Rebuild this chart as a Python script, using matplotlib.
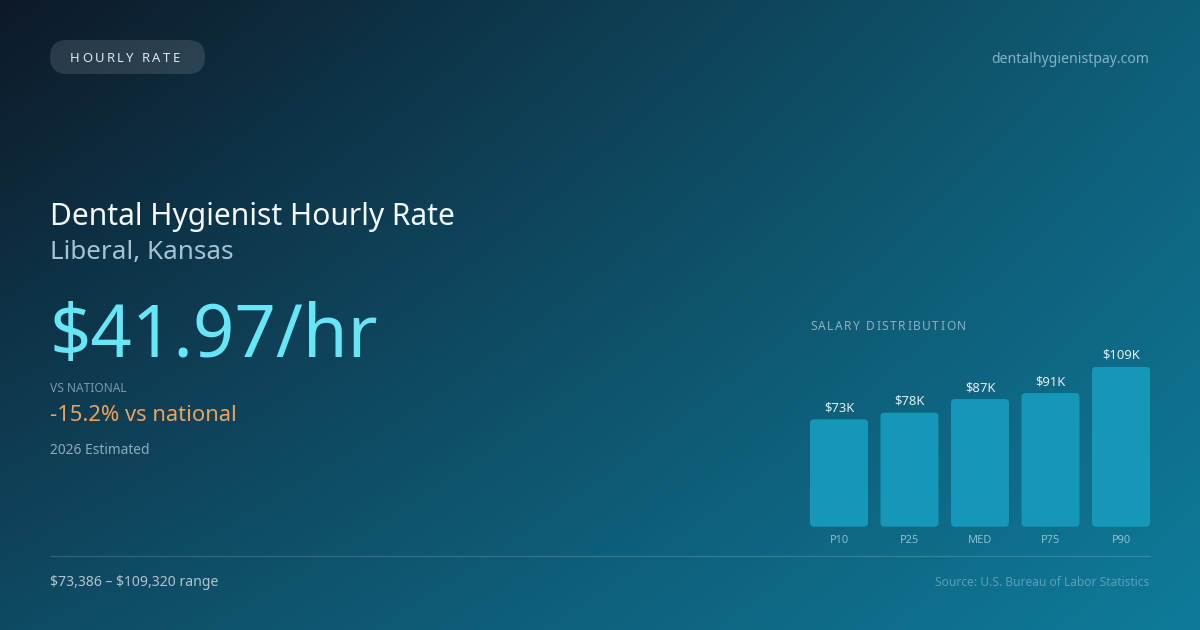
import numpy as np
import matplotlib
matplotlib.use("Agg")
import matplotlib.pyplot as plt
from matplotlib.patches import FancyBboxPatch

plt.rcParams['font.family'] = ['Noto Sans', 'DejaVu Sans']
plt.rcParams['text.parse_math'] = False

# ---- data ----
categories = ["P10", "P25", "MED", "P75", "P90"]
salaries = [73386, 77900, 87200, 91300, 109320]
badge_text = "HOURLY RATE"
site_text = "dentalhygienistpay.com"
title_text = "Dental Hygienist Hourly Rate"
location_text = "Liberal, Kansas"
hourly_text = "$41.97/hr"
vs_label = "VS NATIONAL"
vs_text = "-15.2% vs national"
year_text = "2026 Estimated"
range_text = "$73,386 \u2013 $109,320 range"
source_text = "Source: U.S. Bureau of Labor Statistics"
chart_title = "SALARY DISTRIBUTION"

W, H = 1200, 630
fig = plt.figure(figsize=(W / 100, H / 100), dpi=100)

def fy(y):
    return 1 - y / H

def fx(x):
    return x / W

def pt(px):
    return px * 0.72

# ---- background gradient (bilinear between corner colours) ----
bg = fig.add_axes([0, 0, 1, 1])
bg.set_axis_off()
tl = np.array([0x0d, 0x19, 0x28]) / 255
tr = np.array([0x0f, 0x5e, 0x78]) / 255
bl = np.array([0x0f, 0x4a, 0x63]) / 255
br = np.array([0x0f, 0x7b, 0x9a]) / 255
u = np.linspace(0, 1, 300)[None, :, None]
v = np.linspace(0, 1, 160)[:, None, None]
img = (1 - v) * ((1 - u) * tl + u * tr) + v * ((1 - u) * bl + u * br)
bg.imshow(img, aspect='auto', extent=[0, 1, 0, 1], interpolation='bicubic')
bg.set_xlim(0, 1)
bg.set_ylim(0, 1)

renderer = fig.canvas.get_renderer()

def text_width(s, size):
    t = fig.text(0, 0, s, fontsize=size)
    w = t.get_window_extent(renderer).width
    t.remove()
    return w

def spaced_text(x_px, y_px, s, size, color, spacing_px):
    bar_w = text_width("|", size)
    for i, ch in enumerate(s):
        if i == 0:
            off = 0
        else:
            off = text_width(s[:i] + "|", size) - bar_w
        fig.text(fx(x_px + off + i * spacing_px), fy(y_px), ch, fontsize=size,
                 color=color, va='baseline', ha='left')

# ---- badge ----
pill = FancyBboxPatch((fx(50), fy(74)), fx(155), 34 / H,
                      boxstyle="round,pad=0,rounding_size=%f" % (17 / W),
                      mutation_aspect=W / H,
                      transform=fig.transFigure, facecolor='white', alpha=0.12,
                      edgecolor='none')
fig.patches.append(pill)
spaced_text(70, 62, badge_text, pt(13), '#dfe7ef', 2.4)

fig.text(fx(1149), fy(63), site_text, fontsize=pt(14), color='#86b3c7',
         ha='right', va='baseline')

# ---- left text block ----
fig.text(fx(50), fy(225), title_text, fontsize=pt(30), color='#f4f8fb',
         ha='left', va='baseline')
fig.text(fx(50), fy(259), location_text, fontsize=pt(26), color='#a6c3d3',
         ha='left', va='baseline')
fig.text(fx(49), fy(357), hourly_text, fontsize=pt(72.5), color='#67e6f8',
         ha='left', va='baseline')
fig.text(fx(50), fy(392), vs_label, fontsize=pt(12), color='#7f98aa',
         ha='left', va='baseline')
fig.text(fx(50), fy(421), vs_text, fontsize=pt(22), color='#eca25c',
         ha='left', va='baseline')
fig.text(fx(50), fy(454), year_text, fontsize=pt(13.8), color='#92a9b8',
         ha='left', va='baseline')

# ---- divider and footer ----
bg.plot([fx(50), fx(1150)], [fy(556), fy(556)], color='white', alpha=0.15,
        lw=1, transform=bg.transAxes)
fig.text(fx(50), fy(586), range_text, fontsize=pt(14), color='#b3c4cf',
         ha='left', va='baseline')
fig.text(fx(1149), fy(586), source_text, fontsize=pt(12), color='#5a9fba',
         ha='right', va='baseline')

# ---- salary distribution chart ----
spaced_text(810, 330, chart_title, pt(12), '#8fb1c2', 1.5)

ax_left, ax_right = 810, 1150
ax_bottom, ax_top = 526.7, 366.7
ax = fig.add_axes([fx(ax_left), fy(ax_bottom), (ax_right - ax_left) / W,
                   (ax_bottom - ax_top) / H])
ax.set_axis_off()
ax.patch.set_alpha(0)
x = np.arange(len(categories))
bar_w = 58 / 70.5
ax.set_xlim(-bar_w / 2, len(categories) - 1 + bar_w / 2)
ax.set_ylim(0, max(salaries))
bars = ax.bar(x, salaries, width=bar_w, color='none')

px_per_x = (ax_right - ax_left) / (ax.get_xlim()[1] - ax.get_xlim()[0])
px_per_y = (ax_bottom - ax_top) / max(salaries)
radius_px = 4
for rect, val, cat in zip(bars, salaries, categories):
    rect.set_visible(False)
    p = FancyBboxPatch((rect.get_x(), rect.get_y()), rect.get_width(), rect.get_height(),
                       boxstyle="round,pad=0,rounding_size=%f" % (radius_px / px_per_x),
                       mutation_aspect=px_per_x / px_per_y,
                       facecolor='#1598b7', edgecolor='none')
    ax.add_patch(p)
    cx = rect.get_x() + rect.get_width() / 2
    ax.annotate("$%dK" % round(val / 1000), (cx, val), xytext=(0, 8 * 0.72),
                textcoords='offset points', ha='center', va='baseline',
                fontsize=pt(13), color='#e2eef3', annotation_clip=False)
    ax.annotate(cat, (cx, 0), xytext=(0, -16 * 0.72), textcoords='offset points',
                ha='center', va='baseline', fontsize=pt(11), color='#8fc0d1',
                annotation_clip=False)

fig.savefig("out.png", dpi=100)
